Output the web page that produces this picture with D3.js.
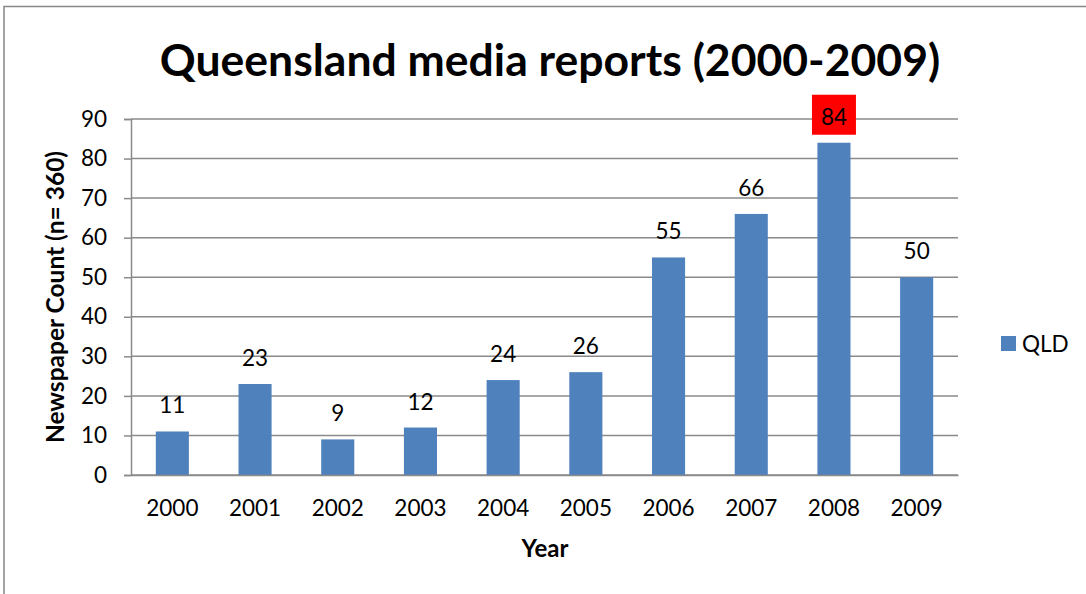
<!DOCTYPE html>
<html>
<head>
<meta charset="utf-8">
<script src="https://cdn.jsdelivr.net/npm/d3@7"></script>
<style>
  html, body { margin: 0; padding: 0; background: #fff; }
  svg { display: block; }
  text { font-family: Lato, "Open Sans", sans-serif; fill: #000; }
</style>
</head>
<body>
<svg id="chart" width="1086" height="594"></svg>
<script>
// Queensland newspaper report counts per year
const years = ["2000","2001","2002","2003","2004","2005","2006","2007","2008","2009"];
const counts = [11, 23, 9, 12, 24, 26, 55, 66, 84, 50];
const yTicks = [0, 10, 20, 30, 40, 50, 60, 70, 80, 90];
const seriesName = "QLD";
const highlightYear = "2008";

const svg = d3.select("#chart");
const W = 1086, H = 594;
const plot = { left: 131, right: 958, top: 119, bottom: 475 };
const fontSize = 22.5;

// outer chart frame
svg.append("rect")
  .attr("x", 4).attr("y", 6.5)
  .attr("width", W + 10).attr("height", H + 10)
  .attr("fill", "#fff").attr("stroke", "#878787").attr("stroke-width", 1.5);

const x = d3.scaleBand()
  .domain(years)
  .range([plot.left, plot.right])
  .paddingInner(0.6)
  .paddingOuter(0.3);

const y = d3.scaleLinear().domain([0, 90]).range([plot.bottom, plot.top]);

// horizontal gridlines
svg.append("g")
  .selectAll("line")
  .data(yTicks)
  .join("line")
  .attr("x1", plot.left).attr("x2", plot.right)
  .attr("y1", d => y(d)).attr("y2", d => y(d))
  .attr("stroke", "#8a8a8a").attr("stroke-width", 1.5);

// y axis
const yAxis = svg.append("g")
  .attr("transform", `translate(${plot.left},0)`)
  .call(d3.axisLeft(y).tickValues(yTicks).tickSize(7).tickPadding(17));
yAxis.select(".domain").attr("stroke", "#8a8a8a").attr("stroke-width", 1.5);
yAxis.selectAll(".tick line").attr("stroke", "#8a8a8a").attr("stroke-width", 1.5);
yAxis.selectAll(".tick text")
  .attr("font-size", fontSize).attr("font-family", "Lato, 'Open Sans', sans-serif")
  .attr("fill", "#000");

// bars
svg.append("g")
  .selectAll("rect")
  .data(years.map((yr, i) => ({ yr, v: counts[i] })))
  .join("rect")
  .attr("x", d => x(d.yr))
  .attr("y", d => y(d.v))
  .attr("width", x.bandwidth())
  .attr("height", d => y(0) - y(d.v))
  .attr("fill", "#4f81bd");

// x axis baseline and labels
const xAxis = svg.append("g")
  .attr("transform", `translate(0,${plot.bottom})`)
  .call(d3.axisBottom(x).tickSize(0).tickPadding(25));
xAxis.select(".domain").attr("stroke", "#8a8a8a").attr("stroke-width", 1.5);
xAxis.selectAll(".tick text")
  .attr("font-size", fontSize).attr("font-family", "Lato, 'Open Sans', sans-serif")
  .attr("fill", "#000");

// value labels above bars
const labels = svg.append("g");
years.forEach((yr, i) => {
  const cx = x(yr) + x.bandwidth() / 2;
  const base = y(counts[i]) - 18;
  if (yr === highlightYear) {
    labels.append("rect")
      .attr("x", cx - 22).attr("y", y(counts[i]) - 48)
      .attr("width", 44).attr("height", 40)
      .attr("fill", "#ff0000");
  }
  labels.append("text")
    .attr("x", cx).attr("y", base)
    .attr("text-anchor", "middle")
    .attr("font-size", fontSize)
    .text(counts[i]);
});

// title
svg.append("text")
  .attr("x", 550).attr("y", 76)
  .attr("text-anchor", "middle")
  .attr("font-size", 44.5).attr("font-weight", "bold")
  .text("Queensland media reports (2000-2009)");

// axis titles
svg.append("text")
  .attr("x", 545).attr("y", 557)
  .attr("text-anchor", "middle")
  .attr("font-size", 24).attr("font-weight", "bold")
  .text("Year");

svg.append("text")
  .attr("transform", `translate(64,${(plot.top + plot.bottom) / 2}) rotate(-90)`)
  .attr("text-anchor", "middle")
  .attr("font-size", 24.5).attr("font-weight", "bold")
  .text("Newspaper Count (n= 360)");

// legend
const legend = svg.append("g").attr("transform", "translate(1001,336)");
legend.append("rect").attr("width", 15).attr("height", 15).attr("fill", "#4f81bd");
legend.append("text").attr("x", 21).attr("y", 16).attr("font-size", fontSize).text(seriesName);
</script>
</body>
</html>
